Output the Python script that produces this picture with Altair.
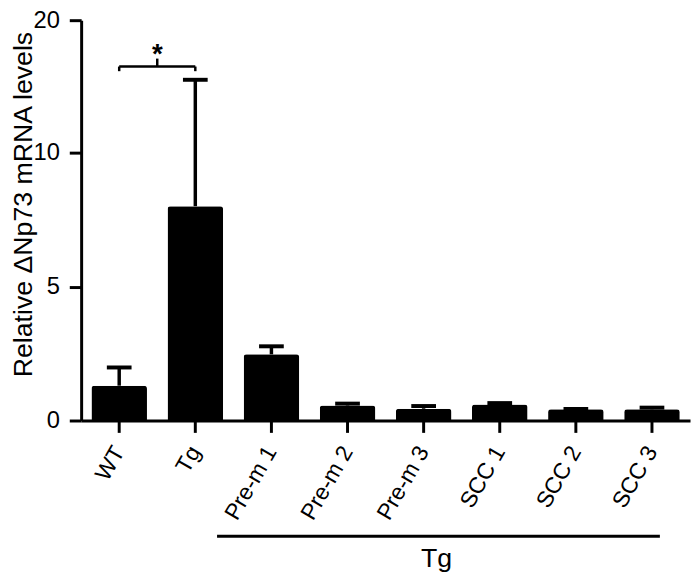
import altair as alt
import pandas as pd

categories = ["WT", "Tg", "Pre-m 1", "Pre-m 2", "Pre-m 3", "SCC 1", "SCC 2", "SCC 3"]
means = [1.30, 8.0, 2.47, 0.56, 0.44, 0.60, 0.42, 0.42]
uppers = [1.98, 15.5, 2.77, 0.63, 0.54, 0.65, 0.43, 0.48]
y_ticks = [0, 5, 10, 20]

bracket_left, bracket_right = "WT", "Tg"
bracket_y, bracket_end_y, bracket_mid_y, star_y = 16.5, 16.15, 17.1, 16.75
star_text = "*"

group_label = "Tg"
group_start, group_end = "Pre-m 1", "SCC 3"
group_label_at = "Pre-m 3"

FONT = "Liberation Sans"

df = pd.DataFrame({"cat": categories, "mean": means, "upper": uppers})

H = 405
xscale = alt.Scale(domain=categories, paddingInner=0.27, paddingOuter=0.135)
yscale = alt.Scale(domain=[0, 10, 20], range=[H, 134, 0], nice=False, zero=False)

xaxis = alt.Axis(title=None, labels=False, tickSize=12, tickWidth=3,
                 domainWidth=3, tickColor="black", domainColor="black")
yaxis = alt.Axis(values=y_ticks, title="Relative ΔNp73 mRNA levels", grid=False,
                 labelFontSize=24, labelPadding=10, tickSize=12, tickWidth=3,
                 domainWidth=3, labelFont=FONT, titleFont=FONT, titleFontSize=27,
                 titleFontWeight="normal", titleX=-58, titleY=186,
                 titleAlign="center", titleBaseline="middle",
                 labelColor="black", tickColor="black", domainColor="black",
                 titleColor="black")


def X(f):
    return alt.X(f, type="nominal", scale=xscale, sort=categories, axis=xaxis)


def Y(f):
    return alt.Y(f, type="quantitative", scale=yscale, axis=yaxis)


base = alt.Chart(df)

bars = base.mark_bar(color="black", opacity=1, cornerRadiusTopLeft=3, cornerRadiusTopRight=3).encode(
    x=X("cat"), y=Y("mean"))

err = base.mark_rule(color="black", opacity=1, strokeWidth=3.5).encode(
    x=X("cat"), y=Y("mean"), y2="upper")

caps = base.mark_tick(color="black", opacity=1, size=25, thickness=4).encode(
    x=X("cat"), y=Y("upper"))

labels = base.mark_text(color="black", fontSize=23, font=FONT, align="right",
                        baseline="middle", angle=300).encode(
    x=X("cat"), y=alt.value(H + 28), text="cat:N")

bdf = pd.DataFrame({"l": [bracket_left], "r": [bracket_right], "y": [bracket_y],
                    "ye": [bracket_end_y], "ym": [bracket_mid_y], "ys": [star_y],
                    "t": [star_text]})
bb = alt.Chart(bdf)
b_h = bb.mark_rule(color="black", strokeWidth=2.5).encode(x=X("l"), x2="r", y=Y("y"))
b_l = bb.mark_rule(color="black", strokeWidth=2.5).encode(x=X("l"), y=Y("ye"), y2="y")
b_r = bb.mark_rule(color="black", strokeWidth=2.5).encode(x=X("r"), y=Y("ye"), y2="y")
b_m = bb.mark_rule(color="black", strokeWidth=2.5, xOffset=38.5).encode(x=X("l"), y=Y("y"), y2="ym")
star = bb.mark_text(color="black", fontSize=28, font=FONT, fontWeight="bold",
                    baseline="alphabetic", xOffset=38.5).encode(x=X("l"), y=Y("ys"), text="t:N")

gdf = pd.DataFrame({"s": [group_start], "e": [group_end], "m": [group_label_at], "t": [group_label]})
gg = alt.Chart(gdf)
g_rule = gg.mark_rule(color="black", strokeWidth=3, xOffset=-55, x2Offset=8).encode(
    x=X("s"), x2="e", y=alt.value(H + 117))
g_text = gg.mark_text(color="black", fontSize=27, font=FONT, baseline="middle",
                      xOffset=13).encode(x=X("m"), y=alt.value(H + 140), text="t:N")

chart = alt.layer(bars, err, caps, labels, b_h, b_l, b_r, b_m, star, g_rule, g_text).properties(
    width=616, height=H,
    padding={"left": 74, "top": 9, "right": 2, "bottom": 156},
    autosize=alt.AutoSizeParams(type="none"),
).configure_view(stroke=None)

chart.save("out.html", embed_options={"renderer": "svg", "actions": False})
